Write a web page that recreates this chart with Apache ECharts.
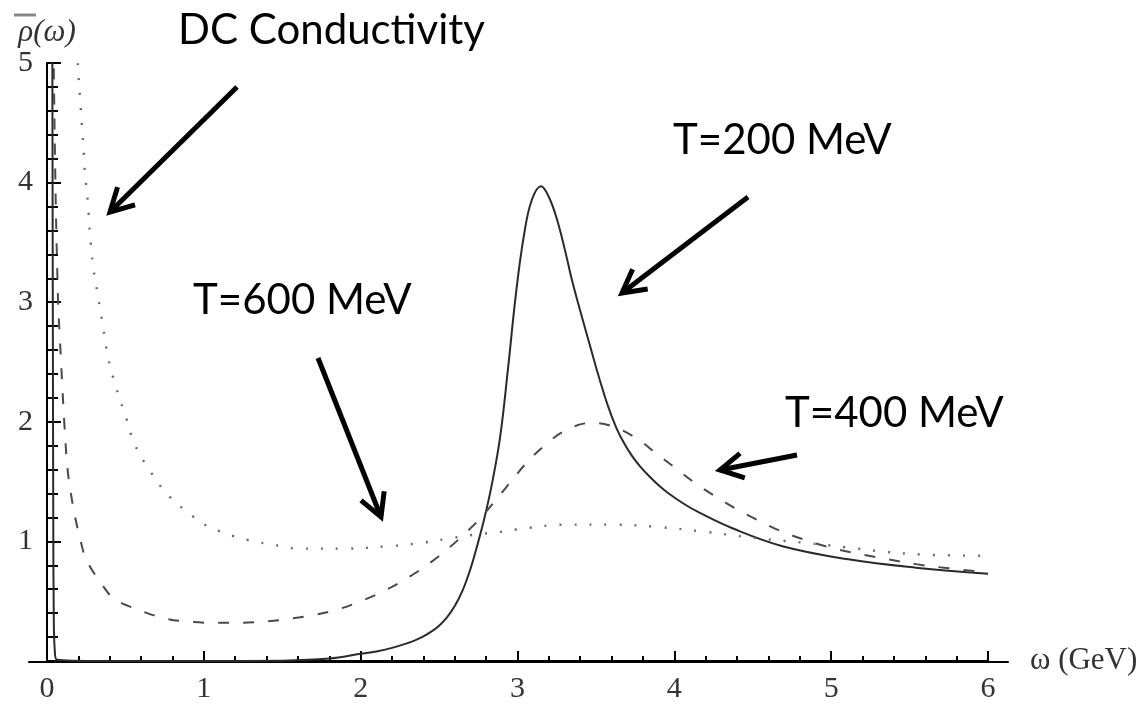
<!DOCTYPE html>
<html>
<head>
<meta charset="utf-8">
<script src="https://cdn.jsdelivr.net/npm/echarts@6/dist/echarts.min.js"></script>
<style>
html,body{margin:0;padding:0;background:#fff;}
#chart{width:1142px;height:704px;}
</style>
</head>
<body>
<div id="chart"></div>
<script>
// ---- data ----
const xTickLabels = ['0', '1', '2', '3', '4', '5', '6'];
const yTickLabels = ['', '1', '2', '3', '4', '5'];

// T = 200 MeV (solid)
const t200X = [0.0, 0.025, 0.033, 0.037, 0.04, 0.043, 0.05, 0.065, 0.3, 1.0, 1.5, 1.8, 2.0, 2.1, 2.2, 2.3, 2.35, 2.4, 2.45, 2.5, 2.55, 2.6, 2.65, 2.7, 2.74, 2.79, 2.84, 2.89, 2.94, 2.99, 3.04, 3.09, 3.15, 3.20, 3.25, 3.30, 3.35, 3.41, 3.47, 3.52, 3.58, 3.63, 3.68, 3.73, 3.78, 3.84, 3.90, 3.96, 4.06, 4.16, 4.37, 4.69, 5.11, 5.54, 6.0];
const t200Y = [40, 12, 6, 3, 1.2, 0.4, 0.08, 0.01, 0, 0, 0.003, 0.02, 0.06, 0.08, 0.11, 0.15, 0.175, 0.205, 0.245, 0.295, 0.365, 0.46, 0.59, 0.77, 0.95, 1.20, 1.50, 1.88, 2.45, 3.07, 3.55, 3.85, 3.97, 3.88, 3.70, 3.45, 3.17, 2.88, 2.60, 2.37, 2.12, 1.95, 1.82, 1.715, 1.63, 1.545, 1.47, 1.405, 1.315, 1.24, 1.11, 0.96, 0.85, 0.78, 0.73];

// T = 400 MeV (dashed)
const t400X = [0.035, 0.05, 0.07, 0.083, 0.096, 0.11, 0.13, 0.15, 0.18, 0.21, 0.25, 0.34, 0.43, 0.58, 0.74, 0.89, 1.06, 1.21, 1.38, 1.53, 1.70, 1.85, 2.0, 2.14, 2.28, 2.41, 2.54, 2.66, 2.76, 2.87, 2.97, 3.06, 3.18, 3.31, 3.47, 3.61, 3.76, 3.89, 4.01, 4.14, 4.27, 4.41, 4.56, 4.69, 4.84, 4.99, 5.16, 5.32, 5.54, 5.75, 6.0];
const t400Y = [6.0, 4.3, 3.03, 2.67, 2.34, 2.0, 1.62, 1.42, 1.2, 1.03, 0.85, 0.66, 0.52, 0.43, 0.36, 0.33, 0.32, 0.32, 0.33, 0.35, 0.385, 0.43, 0.50, 0.58, 0.68, 0.79, 0.92, 1.06, 1.19, 1.36, 1.52, 1.66, 1.81, 1.93, 1.99, 1.96, 1.86, 1.73, 1.61, 1.48, 1.37, 1.26, 1.16, 1.08, 1.01, 0.95, 0.90, 0.86, 0.81, 0.775, 0.74];

// T = 600 MeV (dotted)
const t600X = [0.18, 0.197, 0.21, 0.223, 0.236, 0.242, 0.261, 0.274, 0.293, 0.325, 0.357, 0.389, 0.44, 0.503, 0.56, 0.662, 0.777, 0.93, 1.02, 1.11, 1.2, 1.29, 1.40, 1.50, 1.59, 1.89, 2.18, 2.40, 2.59, 2.75, 2.89, 2.99, 3.31, 3.6, 3.9, 4.2, 4.5, 4.82, 5.1, 5.29, 5.58, 6.0];
const t600Y = [5.5, 4.98, 4.72, 4.47, 4.22, 4.08, 3.83, 3.57, 3.31, 3.05, 2.8, 2.54, 2.29, 2.04, 1.81, 1.58, 1.38, 1.21, 1.13, 1.08, 1.04, 1.01, 0.98, 0.96, 0.94, 0.94, 0.96, 0.99, 1.03, 1.06, 1.08, 1.10, 1.14, 1.14, 1.12, 1.08, 1.03, 0.99, 0.95, 0.92, 0.89, 0.88];

// annotation texts
const labels = ['DC Conductivity', 'T=200 MeV', 'T=600 MeV', 'T=400 MeV'];

const pairs = (xs, ys) => xs.map((x, i) => [x, ys[i]]);

const chart = echarts.init(document.getElementById('chart'), null, {renderer: 'canvas'});

const annFont = 'Lato, "Open Sans", sans-serif';
const annSize = 42;
const textPos = [[178, 30], [673, 140], [193, 300], [785, 413]];
const arrows = [
  [237, 87, 110, 212],
  [748, 197, 622, 293],
  [318, 358, 381, 517],
  [797, 455, 720, 470]
];

function arrowGraphics(a) {
  const [x1, y1, x2, y2] = a;
  const ang = Math.atan2(y2 - y1, x2 - x1);
  const L = 26, spread = 0.5;
  const b1 = [x2 - L * Math.cos(ang - spread), y2 - L * Math.sin(ang - spread)];
  const b2 = [x2 - L * Math.cos(ang + spread), y2 - L * Math.sin(ang + spread)];
  return [
    {type: 'line', shape: {x1: x1, y1: y1, x2: x2, y2: y2}, style: {stroke: '#000', lineWidth: 5}, z: 10},
    {type: 'polyline', shape: {points: [b1, [x2, y2], b2]}, style: {stroke: '#000', lineWidth: 5, fill: null, lineJoin: 'miter'}, z: 10}
  ];
}

const graphics = [];
labels.forEach((t, i) => {
  graphics.push({
    type: 'text', x: textPos[i][0], y: textPos[i][1], z: 10,
    style: {text: t, fontFamily: annFont, fontSize: annSize, fill: '#000', verticalAlign: 'middle', align: 'left'}
  });
});
arrows.forEach(a => graphics.push(...arrowGraphics(a)));
// overline of the y-axis symbol
graphics.push({type: 'line', shape: {x1: 14, y1: 15, x2: 36, y2: 15}, style: {stroke: '#888', lineWidth: 3}, z: 10});

const axisFont = '"Liberation Serif", "Times New Roman", serif';

const option = {
  animation: false,
  backgroundColor: '#fff',
  grid: [
    {left: 47, right: 154, top: 63, bottom: 42, containLabel: false},
    {left: 29, right: 134, top: 63, bottom: 42, containLabel: false}
  ],
  xAxis: [
    {
      type: 'value', gridIndex: 0, min: 0, max: 6, interval: 1,
      name: 'ω (GeV)', nameLocation: 'end', nameGap: 42,
      nameTextStyle: {fontFamily: axisFont, fontSize: 31, color: '#333', verticalAlign: 'middle'},
      axisLine: {show: true, onZero: false, lineStyle: {color: '#000', width: 2}},
      axisTick: {show: true, inside: true, length: 10, lineStyle: {color: '#000', width: 2}},
      minorTick: {show: true, splitNumber: 5, length: 5, lineStyle: {color: '#000', width: 2}},
      axisLabel: {show: true, margin: 13, fontFamily: axisFont, fontSize: 30, color: '#333',
        formatter: (v) => xTickLabels[Math.round(v)] ?? ''},
      splitLine: {show: false}
    },
    {
      type: 'value', gridIndex: 1, min: 0, max: 1,
      axisLine: {show: true, onZero: false, lineStyle: {color: '#000', width: 2}},
      axisTick: {show: false}, axisLabel: {show: false}, splitLine: {show: false}
    }
  ],
  yAxis: [
    {
      type: 'value', gridIndex: 0, min: 0, max: 5, interval: 1,
      name: 'ρ(ω)', nameLocation: 'end', nameGap: 14,
      nameTextStyle: {fontFamily: axisFont, fontSize: 31, fontStyle: 'italic', color: '#333', align: 'center'},
      axisLine: {show: true, onZero: false, lineStyle: {color: '#000', width: 2}},
      axisTick: {show: true, inside: true, length: 14, lineStyle: {color: '#000', width: 2}},
      minorTick: {show: true, splitNumber: 5, length: 11, lineStyle: {color: '#000', width: 2}},
      axisLabel: {show: true, margin: 14, fontFamily: axisFont, fontSize: 30, color: '#333',
        formatter: (v) => yTickLabels[Math.round(v)] ?? ''},
      splitLine: {show: false}
    },
    {type: 'value', gridIndex: 1, min: 0, max: 1, show: false}
  ],
  series: [
    {
      name: 'T=200 MeV', type: 'line', xAxisIndex: 0, yAxisIndex: 0,
      data: pairs(t200X, t200Y), showSymbol: false, symbol: 'none',
      smooth: 0.4, clip: true,
      lineStyle: {color: '#2a2a2a', width: 2}
    },
    {
      name: 'T=400 MeV', type: 'line', xAxisIndex: 0, yAxisIndex: 0,
      data: pairs(t400X, t400Y), showSymbol: false, symbol: 'none',
      smooth: 0.4, clip: true,
      lineStyle: {color: '#4a4a4a', width: 2, type: [11, 14]}
    },
    {
      name: 'T=600 MeV', type: 'line', xAxisIndex: 0, yAxisIndex: 0,
      data: pairs(t600X, t600Y), showSymbol: false, symbol: 'none',
      smooth: 0.4, clip: true,
      lineStyle: {color: '#6a6a6a', width: 2.4, type: [2, 13]}
    }
  ],
  graphic: graphics
};

chart.setOption(option);
</script>
</body>
</html>
